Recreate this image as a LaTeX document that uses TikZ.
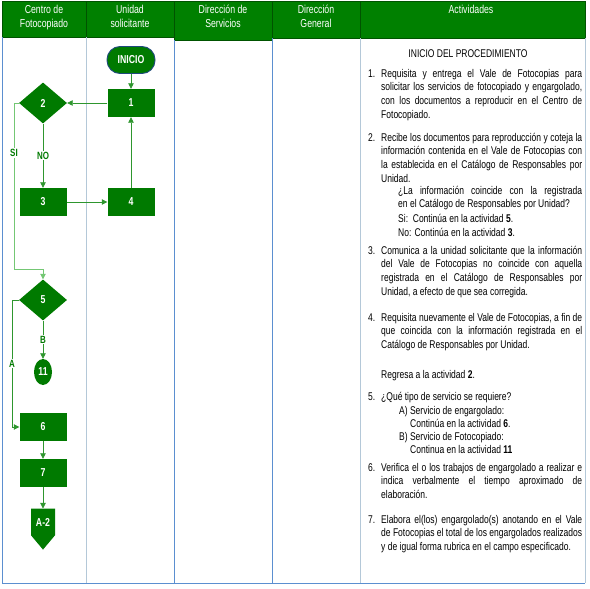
\documentclass[tikz,border=0pt]{standalone}
\usepackage{fontspec}
\setmainfont{Liberation Sans}[FakeStretch=0.76]
\usetikzlibrary{arrows.meta,shapes.geometric,shapes.symbols}
\definecolor{hdrgreen}{HTML}{008000}
\definecolor{boxgreen}{HTML}{007A00}
\definecolor{flowgreen}{HTML}{2E962E}
\definecolor{sigreen}{HTML}{74C774}
\definecolor{laneblue}{HTML}{5B8FD0}
\definecolor{lanelight}{HTML}{B4C8D8}
\definecolor{termblue}{HTML}{1F497D}
\newcommand{\actnum}[1]{\llap{#1.\hspace{6pt}}}

\begin{document}
\begin{tikzpicture}[x=1pt,y=-1pt,>={Triangle[length=5.5pt,width=5.5pt]},
  hdr/.style={fill=hdrgreen,draw=hdrgreen!65!black,line width=0.4pt},
  hdrtxt/.style={anchor=north,text=white,align=center,inner sep=0pt,font=\fontsize{11.5}{13.5}\selectfont},
  act/.style={anchor=base west,inner sep=0pt,text width=#1,align=justify,font=\fontsize{11.2}{13.7}\selectfont},
  act/.default=201pt,
  proc/.style={rectangle,fill=boxgreen,text=white,minimum width=47pt,minimum height=28pt,inner sep=0pt,
    font=\fontsize{11.5}{13}\selectfont\bfseries},
  dec/.style={proc,diamond,minimum width=48pt,minimum height=41pt},
  term/.style={proc,rounded corners=13pt,draw=termblue,line width=0.9pt,minimum width=48pt,minimum height=27pt},
  endc/.style={proc,ellipse,minimum width=18pt,minimum height=26pt},
  offp/.style={proc,signal,signal to=south,signal pointer angle=80,minimum width=24pt,minimum height=35pt},
  flow/.style={->,draw=flowgreen,line width=0.8pt},
  siflow/.style={flow,draw=sigreen},
  lbl/.style={fill=white,text=boxgreen,inner sep=1pt,font=\fontsize{10.5}{12}\selectfont\bfseries}]
\useasboundingbox (0,0) rectangle (590,589);
\draw[hdr] (2,1) rectangle (86,37); \draw[hdr] (86,1) rectangle (174,37);
\draw[hdr] (174,1) rectangle (272,40); \draw[hdr] (272,1) rectangle (360,38);
\draw[hdr] (360,1) rectangle (585,38);
\node[hdrtxt] (h1) at (44,5) {Centro de\\Fotocopiado};
\node[hdrtxt] (h2) at (130,5) {Unidad\\solicitante};
\node[hdrtxt] (h3) at (223,5) {Dirección de\\Servicios};
\node[hdrtxt] (h4) at (316,5) {Dirección\\General};
\node[hdrtxt] (h5) at (471,5) {Actividades};
\draw[laneblue] (2,37) -- (2,583) -- (585,583); \draw[lanelight] (585,38) -- (585,583);
\draw[lanelight] (86,37) -- (86,583); \draw[laneblue] (174,40) -- (174,583);
\draw[laneblue] (272,38) -- (272,583); \draw[lanelight] (360,38) -- (360,583);
\node[term] (inicio) at (131,60) {INICIO};
\node[proc] (p1) at (131,103) {1};
\node[dec] (d2) at (43,103) {2};
\node[proc] (p3) at (43,202) {3};
\node[proc] (p4) at (131,202) {4};
\node[dec] (d5) at (43,300) {5};
\node[endc] (e11) at (43,372) {11};
\node[proc] (p6) at (43,427) {6};
\node[proc] (p7) at (43,473) {7};
\node[offp] (a2) at (43,522) {A-2};
\coordinate (si) at (14,269);
\coordinate (ac) at (12,427);
\draw[flow] (inicio) -- (p1); \draw[flow] (p1) -- (d2);
\draw[flow] (d2) -- node[lbl]{NO} (p3);
\draw[siflow] (d2.west) -| node[lbl,pos=0.65]{SI} (si) -| (d5.north);
\draw[flow] (p3) -- (p4); \draw[flow] (p4) -- (p1);
\draw[flow] (d5) -- node[lbl]{B} (e11);
\draw[flow] (d5.west) -| node[lbl,pos=0.75]{A} (ac) -- (p6.west);
\draw[flow] (p6) -- (p7); \draw[flow] (p7) -- (a2);
\node[anchor=base,inner sep=0pt,font=\fontsize{11.2}{13.7}\selectfont] (t0) at (468,57) {INICIO DEL PROCEDIMIENTO};
\node[act] (t1) at (381,77) {\actnum{1}Requisita y entrega el Vale de Fotocopias para\linebreak
  solicitar los servicios de fotocopiado y engargolado,\linebreak con los documentos a reproducir en el Centro de\linebreak Fotocopiado.};
\node[act] (t2) at (381,141) {\actnum{2}Recibe los documentos para reproducción y coteja la\linebreak
  información contenida en el Vale de Fotocopias con\linebreak la establecida en el Catálogo de Responsables por\linebreak Unidad.};
\node[act=184pt] (t2q) at (398,194) {¿La información coincide con la registrada\linebreak en el Catálogo de Responsables por Unidad?};
\node[act] (t2s) at (398,222) {Si:\ \ Continúa en la actividad \textbf{5}.};
\node[act] (t2n) at (398,236) {No: Continúa en la actividad \textbf{3}.};
\node[act] (t3) at (381,254) {\actnum{3}Comunica a la unidad solicitante que la información\linebreak
  del Vale de Fotocopias no coincide con aquella\linebreak registrada en el Catálogo de Responsables por\linebreak Unidad, a efecto de que sea corregida.};
\node[act] (t4) at (381,321) {\actnum{4}Requisita nuevamente el Vale de Fotocopias, a fin de\linebreak
  que coincida con la información registrada en el\linebreak Catálogo de Responsables por Unidad.};
\node[act] (t4r) at (381,378) {Regresa a la actividad \textbf{2}.};
\node[act] (t5) at (381,400) {\actnum{5}¿Qué tipo de servicio se requiere?};
\node[act] (t5a) at (399,414) {A) Servicio de engargolado:};
\node[act] (t5a2) at (410,427) {Continúa en la actividad \textbf{6}.};
\node[act] (t5b) at (399,440) {B) Servicio de Fotocopiado:};
\node[act] (t5b2) at (410,453) {Continua en la actividad \textbf{11}};
\node[act] (t6) at (381,471) {\actnum{6}Verifica el o los trabajos de engargolado a realizar e\linebreak
  indica verbalmente el tiempo aproximado de\linebreak elaboración.};
\node[act] (t7) at (381,523) {\actnum{7}Elabora el(los) engargolado(s) anotando en el Vale\linebreak
  de Fotocopias el total de los engargolados realizados\linebreak y de igual forma rubrica en el campo especificado.};
\end{tikzpicture}
\end{document}
